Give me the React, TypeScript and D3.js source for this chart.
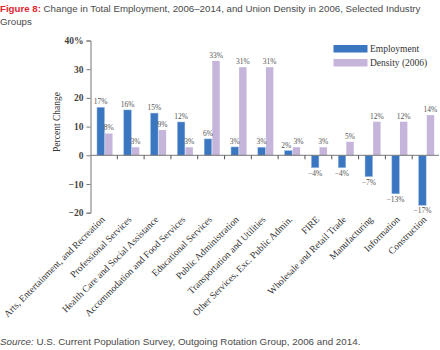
import { useEffect, useRef } from "react";
import * as d3 from "d3";

const industries = [
    "Arts, Entertainment, and Recreation",
    "Professional Services",
    "Health Care and Social Assistance",
    "Accommodation and Food Services",
    "Educational Services",
    "Public Administration",
    "Transportation and Utilities",
    "Other Services, Exc. Public Admin.",
    "FIRE",
    "Wholesale and Retail Trade",
    "Manufacturing",
    "Information",
    "Construction",
];
const employment = [16.7, 15.8, 14.7, 11.6, 5.7, 2.9, 2.8, 1.6, -4.3, -4.3, -7.4, -13.4, -17.4];
const density = [7.6, 2.8, 8.8, 2.8, 32.9, 30.7, 30.7, 2.8, 2.8, 4.7, 11.7, 11.7, 14.0];
const seriesNames = ["Employment", "Density (2006)"];
const yTicks = [-20, -10, 0, 10, 20, 30, 40];

const SERIF = "'Liberation Serif', 'DejaVu Serif', serif";
const SANS = "'Liberation Sans', Arial, sans-serif";
const BLUE = "#3b76c1";
const PURPLE = "#c5b5da";

const App = () => {
    const chartRef = useRef<SVGSVGElement | null>(null);

    useEffect(() => {
        const svg = d3.select(chartRef.current);
        svg.selectAll("*").remove();

        const left = 90.5;
        const right = 439;

        const x0 = d3.scaleBand<string>()
            .domain(industries)
            .range([left, right])
            .paddingInner(0)
            .paddingOuter(0);

        const x1 = d3.scaleBand<string>()
            .domain(seriesNames)
            .range([6.5, 22])
            .paddingInner(0.08);

        const y = d3.scaleLinear()
            .domain([-20, 40])
            .range([212.7, 40.5]);

        // title
        const title = svg.append("text")
            .attr("x", 0)
            .attr("y", 11.5)
            .style("font-family", SANS)
            .style("font-size", "9.7px");
        title.append("tspan")
            .attr("fill", "#e1262f")
            .style("font-weight", "bold")
            .text("Figure 8: ");
        title.append("tspan")
            .attr("fill", "#4a4a4a")
            .text("Change in Total Employment, 2006–2014, and Union Density in 2006, Selected Industry");
        svg.append("text")
            .attr("x", 0)
            .attr("y", 24.5)
            .attr("fill", "#4a4a4a")
            .style("font-family", SANS)
            .style("font-size", "9.7px")
            .text("Groups");

        // y axis
        const yAxis = svg.append("g")
            .attr("transform", `translate(${left},0)`)
            .call(d3.axisLeft(y).tickValues(yTicks).tickSize(4)
                .tickFormat(d => (d === 40 ? "40%" : String(d).replace("-", "−"))));
        yAxis.select(".domain").attr("stroke", "#777").attr("stroke-width", 1);
        yAxis.selectAll(".tick line").attr("stroke", "#777");
        yAxis.selectAll(".tick text")
            .attr("fill", "#444")
            .attr("x", -7)
            .style("font-family", SERIF)
            .style("font-size", "9.5px")
            .style("font-weight", "bold");

        svg.append("text")
            .attr("transform", `translate(60,122) rotate(-90)`)
            .attr("text-anchor", "middle")
            .attr("fill", "#333")
            .style("font-family", SERIF)
            .style("font-size", "9.5px")
            .text("Percent Change");

        // bars
        const groups = svg.selectAll(".industry")
            .data(industries)
            .enter()
            .append("g")
            .attr("class", "industry")
            .attr("transform", d => `translate(${x0(d)},0)`);

        const bothSmall = (i: number) => employment[i] > 0 && employment[i] < 4 && density[i] < 4;
        const rows = (i: number) => [
            { series: seriesNames[0], value: employment[i], color: BLUE, nudge: bothSmall(i) ? -2 : 0 },
            { series: seriesNames[1], value: density[i], color: PURPLE, nudge: bothSmall(i) ? 2 : 0 },
        ];

        groups.selectAll("rect")
            .data((d, i) => rows(i))
            .enter()
            .append("rect")
            .attr("x", d => x1(d.series) as number)
            .attr("y", d => y(Math.max(0, d.value)))
            .attr("width", x1.bandwidth())
            .attr("height", d => Math.abs(y(d.value) - y(0)))
            .attr("fill", d => d.color)
            .attr("stroke", d => (d.color === BLUE ? "#8fb3e0" : "none"))
            .attr("stroke-width", 0.5);

        groups.selectAll(".val")
            .data((d, i) => rows(i))
            .enter()
            .append("text")
            .attr("class", "val")
            .attr("x", d => (x1(d.series) as number) + x1.bandwidth() / 2 + d.nudge)
            .attr("y", d => (d.value >= 0 ? y(d.value) - 3 : y(d.value) + 8))
            .attr("text-anchor", "middle")
            .attr("fill", "#555")
            .style("font-family", SERIF)
            .style("font-size", "7.5px")
            .text(d => `${Math.round(d.value)}%`.replace("-", "−"));

        // x axis at zero
        svg.append("line")
            .attr("x1", left)
            .attr("x2", right)
            .attr("y1", y(0))
            .attr("y2", y(0))
            .attr("stroke", "#777");
        svg.selectAll(".xtick")
            .data(industries.slice(1))
            .enter()
            .append("line")
            .attr("class", "xtick")
            .attr("x1", d => x0(d) as number)
            .attr("x2", d => x0(d) as number)
            .attr("y1", y(0))
            .attr("y2", y(0) + 4)
            .attr("stroke", "#555");

        svg.selectAll(".xlabel")
            .data(industries)
            .enter()
            .append("text")
            .attr("class", "xlabel")
            .attr("transform", d => `translate(${(x0(d) as number) + x0.bandwidth() / 2 + 1.5},220) rotate(-45)`)
            .attr("text-anchor", "end")
            .attr("fill", "#333")
            .style("font-family", SERIF)
            .style("font-size", "9.6px")
            .text(d => d);

        // legend
        const legend = svg.append("g");
        seriesNames.forEach((name, i) => {
            legend.append("rect")
                .attr("x", 333.5)
                .attr("y", 45 + i * 14)
                .attr("width", 34)
                .attr("height", 7.5)
                .attr("fill", i === 0 ? BLUE : PURPLE);
            legend.append("text")
                .attr("x", 370)
                .attr("y", 51.5 + i * 14)
                .attr("fill", "#333")
                .style("font-family", SERIF)
                .style("font-size", "9.5px")
                .text(name);
        });

        // source
        const source = svg.append("text")
            .attr("x", 0)
            .attr("y", 344.5)
            .attr("fill", "#4a4a4a")
            .style("font-family", SANS)
            .style("font-size", "9.8px");
        source.append("tspan").style("font-style", "italic").text("Source:");
        source.append("tspan").text(" U.S. Current Population Survey, Outgoing Rotation Group, 2006 and 2014.");

        return () => {
            d3.select(chartRef.current).selectAll("*").remove();
        };
    }, []);

    return (
        <svg
            ref={chartRef}
            width={440}
            height={350}
            style={{ position: "absolute", left: 0, top: 0, background: "#fff" }}
        ></svg>
    );
};

export default App;
